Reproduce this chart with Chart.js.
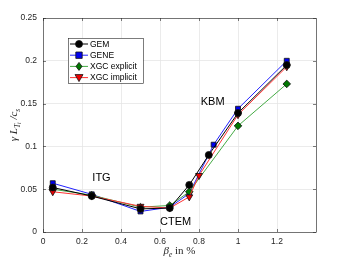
<!DOCTYPE html>
<html>
<head>
  <title>Growth rate vs beta</title>
  <script src="https://cdn.jsdelivr.net/npm/chart.js"></script>
  <style>
    body { margin: 0; background: #fff; }
    #wrap { width: 346px; height: 259px; position: relative; }
  </style>
</head>
<body>
  <div id="wrap"><canvas id="c"></canvas></div>
  <script>
    const seriesNames = ['GEM', 'GENE', 'XGC explicit', 'XGC implicit'];
    const gemBeta = [0.05, 0.25, 0.5, 0.65, 0.75, 0.85, 1.0, 1.25];
    const gemGamma = [0.052, 0.042, 0.027, 0.028, 0.055, 0.090, 0.139, 0.195];
    const geneBeta = [0.05, 0.25, 0.5, 0.65, 0.75, 0.875, 1.0, 1.25];
    const geneGamma = [0.057, 0.044, 0.024, 0.029, 0.045, 0.102, 0.144, 0.200];
    const xgcExpBeta = [0.05, 0.25, 0.5, 0.65, 0.75, 1.0, 1.25];
    const xgcExpGamma = [0.050, 0.043, 0.029, 0.031, 0.047, 0.124, 0.173];
    const xgcImpBeta = [0.05, 0.25, 0.5, 0.65, 0.75, 0.8, 1.0, 1.25];
    const xgcImpGamma = [0.047, 0.042, 0.030, 0.028, 0.041, 0.066, 0.137, 0.193];
    const xTicks = [0, 0.2, 0.4, 0.6, 0.8, 1, 1.2];
    const yTicks = [0, 0.05, 0.1, 0.15, 0.2, 0.25];
    const regimeLabels = [
      { text: 'ITG', x: 0.3, y: 0.063 },
      { text: 'CTEM', x: 0.68, y: 0.012 },
      { text: 'KBM', x: 0.87, y: 0.152 }
    ];

    const pts = (xs, ys) => xs.map((x, i) => ({ x: x, y: ys[i] }));
    const styles = [
      { line: '#000000', fill: '#000000', shape: 'circle', r: 3.5, rot: 0 },
      { line: '#2222ff', fill: '#0000ee', shape: 'rect', r: 3.5, rot: 0 },
      { line: '#44aa44', fill: '#007700', shape: 'rectRot', r: 3.8, rot: 0 },
      { line: '#ff3333', fill: '#ee0000', shape: 'triangle', r: 4, rot: 180 }
    ];
    const allData = [pts(gemBeta, gemGamma), pts(geneBeta, geneGamma), pts(xgcExpBeta, xgcExpGamma), pts(xgcImpBeta, xgcImpGamma)];

    // GEM drawn on top
    const datasets = seriesNames.map((n, i) => ({
      label: n,
      data: allData[i],
      showLine: true,
      borderColor: styles[i].line,
      borderWidth: 1,
      backgroundColor: styles[i].fill,
      pointBackgroundColor: styles[i].fill,
      pointBorderColor: '#111',
      pointBorderWidth: 0.8,
      pointStyle: styles[i].shape,
      pointRadius: styles[i].r,
      pointRotation: styles[i].rot,
      order: i === 0 ? 0 : 4 - i
    }));

    const decor = {
      id: 'decor',
      afterDraw(chart) {
        const ctx = chart.ctx;
        const a = chart.chartArea;
        const xs = chart.scales.x, ys = chart.scales.y;
        ctx.save();
        // axes box
        ctx.strokeStyle = '#262626';
        ctx.lineWidth = 0.6;
        ctx.strokeRect(a.left + 0.5, a.top + 0.5, a.right - a.left, a.bottom - a.top);
        // small inward ticks
        ctx.beginPath();
        xTicks.forEach(v => {
          const px = Math.round(xs.getPixelForValue(v)) + 0.5;
          ctx.moveTo(px, a.bottom); ctx.lineTo(px, a.bottom - 3);
          ctx.moveTo(px, a.top); ctx.lineTo(px, a.top + 3);
        });
        yTicks.forEach(v => {
          const py = Math.round(ys.getPixelForValue(v)) + 0.5;
          ctx.moveTo(a.left, py); ctx.lineTo(a.left + 3, py);
          ctx.moveTo(a.right, py); ctx.lineTo(a.right - 3, py);
        });
        ctx.stroke();

        // regime labels
        ctx.fillStyle = '#000';
        ctx.font = '11px "Liberation Sans", Arial, sans-serif';
        ctx.textAlign = 'center';
        ctx.textBaseline = 'middle';
        regimeLabels.forEach(l => {
          ctx.fillText(l.text, xs.getPixelForValue(l.x), ys.getPixelForValue(l.y));
        });

        // legend
        const lx = 68, ly = 38, lw = 75, lh = 45;
        ctx.fillStyle = '#fff';
        ctx.fillRect(lx, ly, lw, lh);
        ctx.strokeStyle = '#262626';
        ctx.lineWidth = 0.6;
        ctx.strokeRect(lx + 0.5, ly + 0.5, lw, lh);
        ctx.font = '8.5px "Liberation Sans", Arial, sans-serif';
        ctx.textAlign = 'left';
        seriesNames.forEach((n, i) => {
          const y = ly + 6 + i * 11.2;
          ctx.strokeStyle = styles[i].line;
          ctx.lineWidth = 1;
          ctx.beginPath();
          ctx.moveTo(lx + 2, y); ctx.lineTo(lx + 20, y);
          ctx.stroke();
          ctx.fillStyle = styles[i].fill;
          ctx.strokeStyle = '#111';
          ctx.lineWidth = 0.8;
          ctx.beginPath();
          if (styles[i].shape === 'circle') ctx.arc(lx + 11, y, styles[i].r, 0, Math.PI * 2);
          else if (styles[i].shape === 'rect') ctx.rect(lx + 11 - 3.2, y - 3.2, 6.4, 6.4);
          else if (styles[i].shape === 'rectRot') {
            ctx.moveTo(lx + 11, y - 4); ctx.lineTo(lx + 14, y); ctx.lineTo(lx + 11, y + 4); ctx.lineTo(lx + 8, y);
            ctx.closePath();
          } else {
            ctx.moveTo(lx + 7, y - 3); ctx.lineTo(lx + 15, y - 3); ctx.lineTo(lx + 11, y + 4);
            ctx.closePath();
          }
          ctx.fill(); ctx.stroke();
          ctx.fillStyle = '#000';
          ctx.fillText(n, lx + 22, y + 0.5);
        });

        // y axis title
        ctx.fillStyle = '#262626';
        ctx.save();
        ctx.translate(13, (a.top + a.bottom) / 2);
        ctx.rotate(-Math.PI / 2);
        ctx.textAlign = 'left';
        ctx.textBaseline = 'alphabetic';
        const big = 'italic 11px "Liberation Serif", "DejaVu Serif", serif';
        const small = 'italic 7.5px "Liberation Serif", "DejaVu Serif", serif';
        const parts = [
          { t: 'γ ', f: big, dy: 0 }, { t: 'L', f: big, dy: 0 },
          { t: 'T', f: small, dy: 2.5 }, { t: 'i', f: 'italic 5.5px "Liberation Serif", serif', dy: 4 },
          { t: ' /c', f: big, dy: 0 }, { t: 's', f: small, dy: 2.5 }
        ];
        let w = 0;
        parts.forEach(p => { ctx.font = p.f; w += ctx.measureText(p.t).width; });
        let cx = -w / 2;
        parts.forEach(p => { ctx.font = p.f; ctx.fillText(p.t, cx, 4 + p.dy); cx += ctx.measureText(p.t).width; });
        ctx.restore();

        // x axis title
        ctx.textBaseline = 'alphabetic';
        ctx.textAlign = 'left';
        const xparts = [
          { t: 'β', f: 'italic 11px "Liberation Serif", "DejaVu Serif", serif', dy: 0 },
          { t: 'e', f: 'italic 7.5px "Liberation Serif", serif', dy: 2.5 },
          { t: ' in %', f: '11px "Liberation Serif", "DejaVu Serif", serif', dy: 0 }
        ];
        let xw = 0;
        xparts.forEach(p => { ctx.font = p.f; xw += ctx.measureText(p.t).width; });
        let xx = (a.left + a.right) / 2 - xw / 2;
        xparts.forEach(p => { ctx.font = p.f; ctx.fillText(p.t, xx, 254 + p.dy); xx += ctx.measureText(p.t).width; });
        ctx.restore();
      }
    };

    new Chart(document.getElementById('c'), {
      type: 'scatter',
      data: { datasets: datasets },
      options: {
        responsive: true,
        maintainAspectRatio: false,
        animation: false,
        layout: { padding: { top: 18, right: 30, left: 0, bottom: 0 } },
        plugins: { legend: { display: false }, tooltip: { enabled: false } },
        scales: {
          x: {
            type: 'linear', min: 0, max: 1.4,
            afterFit: s => { s.height = 27; },
            afterBuildTicks: s => { s.ticks = xTicks.concat([1.4]).map(v => ({ value: v })); },
            grid: { color: '#e6e6e6', lineWidth: 0.8, drawTicks: false },
            border: { display: false },
            ticks: {
              padding: 5, maxRotation: 0, color: '#262626',
              font: { size: 8.5, family: '"Liberation Sans", Arial, sans-serif' },
              callback: v => (v >= 1.39 ? '' : String(Math.round(v * 10) / 10))
            }
          },
          y: {
            min: 0, max: 0.25,
            afterFit: s => { s.width = 43; },
            afterBuildTicks: s => { s.ticks = yTicks.map(v => ({ value: v })); },
            grid: { color: '#e6e6e6', lineWidth: 0.8, drawTicks: false },
            border: { display: false },
            ticks: {
              padding: 6, color: '#262626',
              font: { size: 8.5, family: '"Liberation Sans", Arial, sans-serif' },
              callback: v => String(Math.round(v * 100) / 100)
            }
          }
        }
      },
      plugins: [decor]
    });
  </script>
</body>
</html>
